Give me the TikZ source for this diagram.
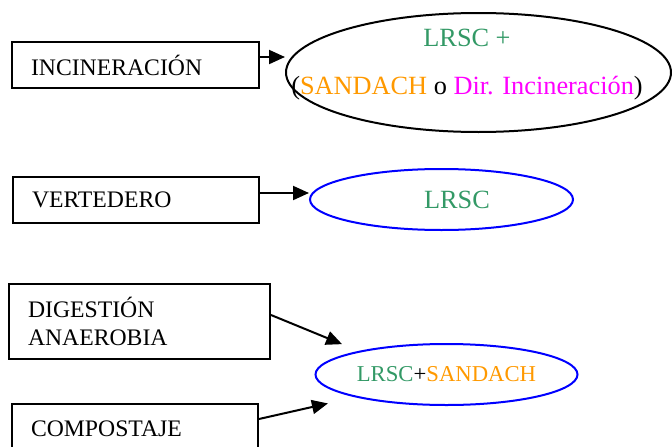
\documentclass[tikz,border=0pt]{standalone}
\usepackage{fontspec}
\setmainfont{Liberation Serif}
\usepackage{xcolor}
\usetikzlibrary{positioning}
\usetikzlibrary{arrows.meta}
\usetikzlibrary{shapes.geometric}

\definecolor{lrscgreen}{RGB}{51,153,102}
\definecolor{sandachorange}{RGB}{255,153,0}
\definecolor{dirmagenta}{RGB}{255,0,255}

\begin{document}
\begin{tikzpicture}[->, >={Triangle[length=16pt,width=14pt]}, line width=2pt, x=1pt, y=-1pt, font=\fontsize{23.7}{28}\selectfont]
		\tikzstyle{block}=[draw=black, rectangle, inner xsep=19pt, inner ysep=0pt, align=left]
		\tikzstyle{dest}=[draw=blue, ellipse, inner sep=0pt, minimum width=263pt, minimum height=61pt]
		\tikzstyle{annot}=[align=center, inner sep=0pt, font=\fontsize{26.3}{30}\selectfont]
		
		\useasboundingbox (0,0) rectangle (672,447);
		
		\node[block, text width=209pt, minimum height=46pt] (inc) at (135.5,65) {INCINERACIÓN};
		\node[block, text width=208pt, minimum height=46pt] (vert) at (136,200) {VERTEDERO};
		\node[block, text width=223pt, minimum height=75pt] (dig) at (139.5,321.5) {DIGESTIÓN\\ANAEROBIA};
		\node[block, text width=208pt, minimum height=50pt] (comp) at (135,429) {COMPOSTAJE};
		
		\node[dest, draw=black, minimum width=385pt, minimum height=119pt] (ell1) at (478.5,72.5) {};
		\node[annot] (ell1 text) at (467,65) {\color{lrscgreen}LRSC +\\[18pt](\textcolor{sandachorange}{SANDACH} o \textcolor{dirmagenta}{Dir. Incineración})};
		\node[dest, annot] (ell2) at (441.5,199.5) {\hspace*{31pt}\color{lrscgreen}LRSC};
		\node[dest, font=\fontsize{22.7}{27}\selectfont, minimum width=262pt] (ell3) at (446.5,374.5) {\textcolor{lrscgreen}{LRSC}+\textcolor{sandachorange}{SANDACH}};
		
		\path ([yshift=8pt]inc.east) edge ([yshift=8pt]inc.east -| ell1.west);
		\path ([yshift=7pt]vert.east) edge ([yshift=7pt]vert.east -| ell2.west);
		\path ([yshift=6.5pt]dig.east) edge[shorten >=18pt] (ell3.165);
		\path ([yshift=10pt]comp.east) edge[shorten >=28pt] (ell3.194);
	\end{tikzpicture}
\end{document}
